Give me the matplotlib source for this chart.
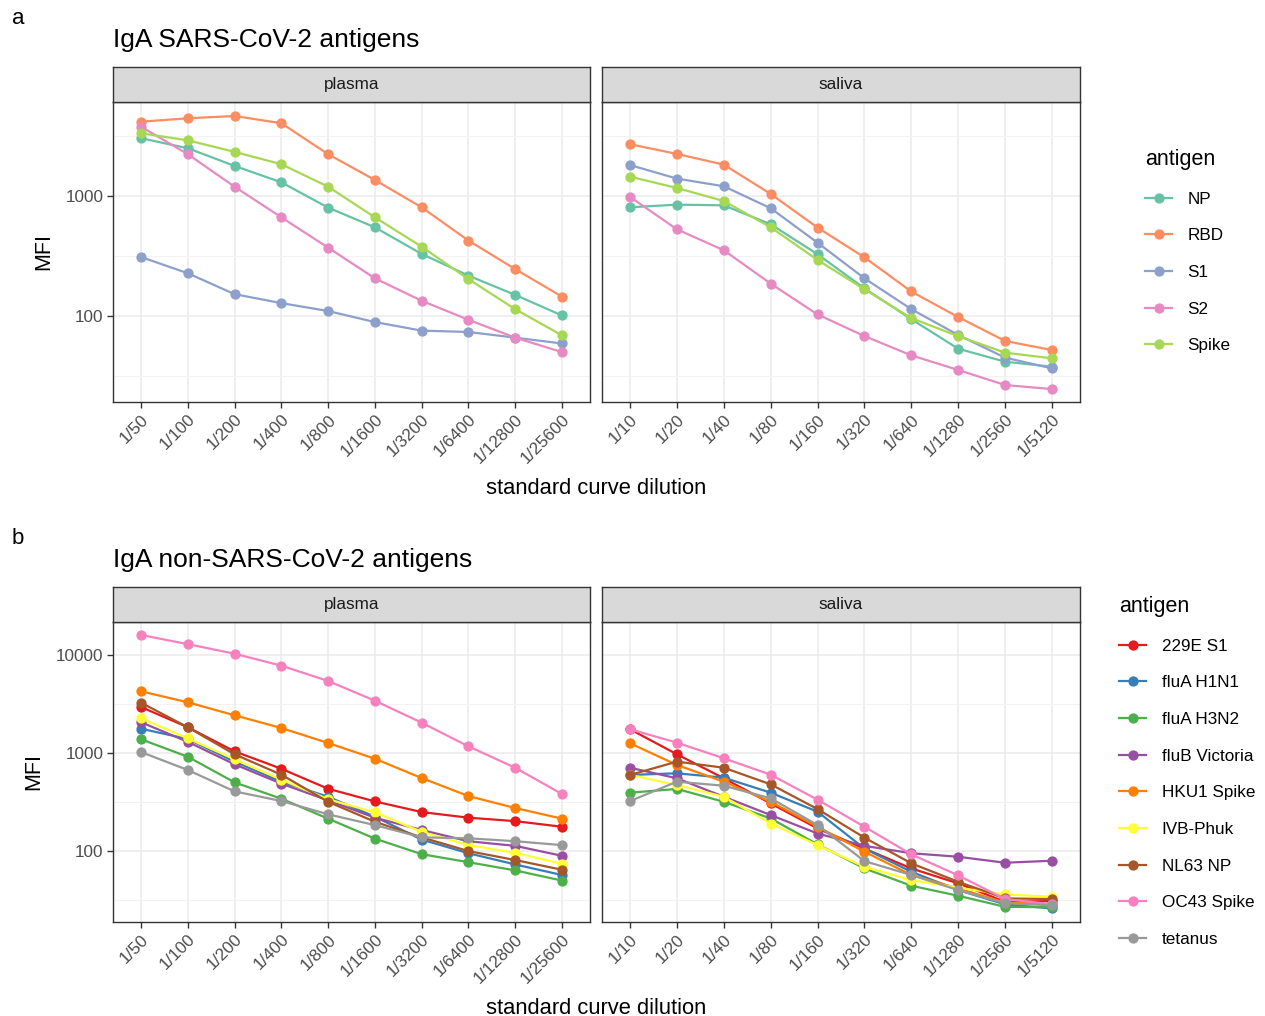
import numpy as np
import matplotlib
matplotlib.use("Agg")
import matplotlib.pyplot as plt
from matplotlib.lines import Line2D
from matplotlib.ticker import FixedLocator, NullFormatter

plt.rcParams['font.family'] = ['Liberation Sans', 'DejaVu Sans']

# dilutions
plasma_dil = ['1/50', '1/100', '1/200', '1/400', '1/800', '1/1600',
              '1/3200', '1/6400', '1/12800', '1/25600']
saliva_dil = ['1/10', '1/20', '1/40', '1/80', '1/160', '1/320',
              '1/640', '1/1280', '1/2560', '1/5120']

# panel a: SARS-CoV-2 antigens
cov_antigens = ['NP', 'RBD', 'S1', 'S2', 'Spike']
cov_colors = ['#66C2A5', '#FC8D62', '#8DA0CB', '#E78AC3', '#A6D854']
cov_plasma = [
    [3030, 2500, 1780, 1300, 800, 548, 329, 217, 150, 101],
    [4160, 4440, 4640, 4040, 2230, 1360, 805, 425, 246, 145],
    [310, 227, 152, 128, 110, 89, 75.5, 73.6, 66, 59],
    [3780, 2230, 1195, 664, 371, 206, 134, 93, 66, 50],
    [3330, 2910, 2330, 1840, 1195, 664, 378, 203, 114, 69],
]
cov_saliva = [
    [805, 847, 836, 581, 327, 170, 94, 53.4, 41.6, 37.8],
    [2700, 2240, 1825, 1040, 545, 308, 160, 98, 62, 52],
    [1810, 1395, 1205, 790, 408, 206, 114, 69.5, 45, 36.6],
    [982, 527, 353, 186, 103, 68, 47, 35.5, 26.6, 24.6],
    [1448, 1166, 908, 548, 293, 167, 96, 68, 49.5, 44.4],
]

# panel b: non-SARS-CoV-2 antigens
oth_antigens = ['229E S1', 'fluA H1N1', 'fluA H3N2', 'fluB Victoria',
                'HKU1 Spike', 'IVB-Phuk', 'NL63 NP', 'OC43 Spike', 'tetanus']
oth_colors = ['#E41A1C', '#377EB8', '#4DAF4A', '#984EA3', '#FF7F00',
              '#FFFF33', '#A65628', '#F781BF', '#999999']
oth_plasma = [
    [2945, 1830, 1040, 691, 432, 321, 250, 219, 202, 177],
    [1770, 1390, 817, 510, 358, 224, 131, 95, 73, 57],
    [1380, 916, 502, 342, 214, 134, 93, 77, 63.5, 50],
    [2060, 1300, 767, 487, 329, 219, 164, 126, 113, 89.5],
    [4260, 3290, 2425, 1800, 1265, 875, 556, 364, 275, 214],
    [2260, 1410, 863, 535, 338, 248, 157, 115, 96, 74],
    [3260, 1830, 970, 601, 318, 199, 138, 100, 81, 64.5],
    [16000, 12900, 10300, 7780, 5430, 3420, 2040, 1170, 708, 382],
    [1023, 671, 406, 324, 237, 184, 138, 135, 126, 115],
]
oth_saliva = [
    [1746, 970, 552, 306, 170, 106, 66.5, 46.8, 30.4, 30.9],
    [598, 621, 560, 394, 252, 106, 61.5, 40, 28.6, 26],
    [394, 430, 318, 215, 117, 66.5, 44.3, 35, 27, 26.7],
    [708, 552, 358, 233, 151, 113, 95, 87.5, 76, 79.7],
    [1257, 755, 510, 318, 177, 98.5, 57, 41.6, 29.9, 28.6],
    [598, 471, 358, 191, 115, 69, 50.6, 42.3, 36.1, 34.2],
    [598, 817, 708, 479, 268, 137, 75, 48.6, 32.9, 32.4],
    [1746, 1275, 883, 601, 334, 177, 92.5, 56.5, 32.4, 28.6],
    [324, 510, 464, 345, 184, 79, 57, 40, 29.3, 28],
]

W, H = 1265, 1016
fig = plt.figure(figsize=(W / 100, H / 100), dpi=100)


def rect(x0, y0, x1, y1):
    return [x0 / W, 1 - y1 / H, (x1 - x0) / W, (y1 - y0) / H]


def panel(box, strip_top, dil, series, colors, ylim, yticks, show_y):
    ax = fig.add_axes(rect(*box))
    x = np.arange(len(dil))
    ax.set_yscale('log')
    ax.set_ylim(*ylim)
    ax.set_xlim(-0.6, len(dil) - 0.4)
    lo, hi = np.log10(ylim[0]), np.log10(ylim[1])
    minors = [10 ** (k + 0.5) for k in range(int(np.floor(lo)), int(np.ceil(hi)))]
    ax.yaxis.set_major_locator(FixedLocator(yticks))
    ax.yaxis.set_minor_locator(FixedLocator(minors))
    ax.yaxis.set_minor_formatter(NullFormatter())
    ax.set_yticklabels([str(t) for t in yticks] if show_y else [])
    ax.set_xticks(x)
    ax.set_xticklabels(dil, rotation=45, ha='right', rotation_mode='anchor')
    ax.grid(True, which='major', color='#EBEBEB', lw=1.1)
    ax.grid(True, which='minor', axis='y', color='#F2F2F2', lw=0.8)
    ax.set_axisbelow(True)
    ax.tick_params(which='major', length=4, width=1, color='#333333',
                   labelsize=12.3, labelcolor='#4D4D4D', pad=3)
    ax.tick_params(which='minor', length=0)
    if not show_y:
        ax.tick_params(axis='y', which='major', length=0)
    for s in ax.spines.values():
        s.set_color('#333333')
        s.set_linewidth(1)
    for vals, c in zip(series, colors):
        ax.plot(x, vals, color=c, lw=1.6, marker='o', ms=6.4, mec=c, mfc=c)
    # strip
    sx = fig.add_axes(rect(box[0], strip_top, box[2], box[1]))
    sx.set_facecolor('#D9D9D9')
    sx.set_xticks([])
    sx.set_yticks([])
    for s in sx.spines.values():
        s.set_color('#333333')
        s.set_linewidth(1)
    return ax, sx


def block(top, dil_sets, data_sets, colors, labels, ylim, yticks, title, tag,
          leg_x, leg_title_y):
    lx, rx = 113, 590
    lx2, rx2 = 602, 1080
    ax1, s1 = panel((lx, top, rx, top + 300), top - 35, dil_sets[0],
                    data_sets[0], colors, ylim, yticks, True)
    ax2, s2 = panel((lx2, top, rx2, top + 300), top - 35, dil_sets[1],
                    data_sets[1], colors, ylim, yticks, False)
    s1.text(0.5, 0.5, 'plasma', ha='center', va='center', fontsize=12.3,
            color='#1A1A1A', transform=s1.transAxes)
    s2.text(0.5, 0.5, 'saliva', ha='center', va='center', fontsize=12.3,
            color='#1A1A1A', transform=s2.transAxes)
    ax1.set_ylabel('MFI', fontsize=15.5, labelpad=8)
    fig.text(596.5 / W, 1 - (top + 386) / H, 'standard curve dilution',
             ha='center', va='center', fontsize=15.8)
    fig.text(113 / W, 1 - (top - 62) / H, title, ha='left', va='center',
             fontsize=19)
    fig.text(12 / W, 1 - (top - 84) / H, tag, ha='left', va='center',
             fontsize=16)
    handles = [Line2D([], [], color=c, lw=1.6, marker='o', ms=6.4)
               for c in colors]
    leg = fig.legend(handles, labels, loc='upper left',
                     bbox_to_anchor=(leg_x / W, 1 - leg_title_y / H),
                     frameon=False, fontsize=12.3, title='antigen',
                     title_fontsize=15.5, handlelength=1.6, handletextpad=0.9,
                     labelspacing=1.27, borderaxespad=0)
    leg._legend_box.align = 'left'


block(102, (plasma_dil, saliva_dil), (cov_plasma, cov_saliva), cov_colors,
      cov_antigens, (19.2, 6070), [100, 1000], 'IgA SARS-CoV-2 antigens', 'a',
      1138, 142)
block(622, (plasma_dil, saliva_dil), (oth_plasma, oth_saliva), oth_colors,
      oth_antigens, (18.9, 21700), [100, 1000, 10000],
      'IgA non-SARS-CoV-2 antigens', 'b', 1112, 589)

fig.savefig('out.png', dpi=100, facecolor='white')
